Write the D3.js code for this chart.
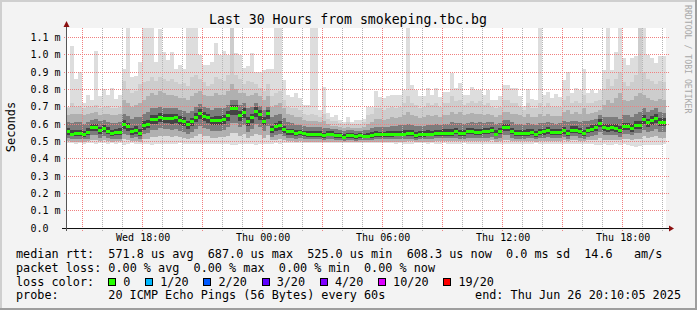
<!DOCTYPE html>
<html><head><meta charset="utf-8">
<script src="https://cdn.jsdelivr.net/npm/d3@7"></script>
<style>
body{margin:0;background:#f3f3f3}
svg{display:block}
text{font-family:"DejaVu Sans Mono",monospace}
</style></head>
<body><svg id="c" width="697" height="310" xmlns="http://www.w3.org/2000/svg"></svg>
<script>
// ---- data (microseconds) ----
const binSeconds = 720;
const endTime = new Date(2025,5,26,20,10,5);
const spanHours = 30;

const median = [
556,542,546,546,540,552,581,581,560,575,
558,546,552,552,600,583,554,565,546,592,
600,627,627,640,633,633,631,637,623,615,
596,612,640,662,646,635,619,619,621,627,
650,687,687,650,667,612,635,673,654,617,
658,567,583,592,569,554,554,544,550,544,
540,540,540,540,533,542,542,535,535,525,
531,535,527,531,529,529,535,540,537,537,
540,540,542,542,542,544,544,535,538,538,
542,542,548,548,548,548,548,556,546,546,
556,556,552,552,556,556,563,542,556,579,
579,556,546,546,546,548,552,540,552,554,
560,552,550,552,562,546,565,565,556,546,
563,571,579,604,579,575,579,575,563,585,
585,575,594,594,625,606,620,631,609,608];

const smokeTop1 = [
700,1050,860,900,720,765,740,1020,760,800,
770,810,745,770,920,1200,870,875,960,1200,
1200,1200,956,1150,1017,970,1017,920,940,920,
1200,1200,1200,1000,940,940,960,1065,998,1020,
1000,1200,1010,1000,925,937,1010,900,900,910,
915,920,1200,1200,854,767,758,777,748,710,
710,1200,1200,680,815,662,642,652,623,613,
642,613,623,623,627,700,700,790,758,752,
763,767,767,767,796,1200,825,796,763,763,
806,767,806,758,787,787,896,806,835,767,
767,815,796,796,767,796,738,738,760,825,
825,806,806,763,704,800,744,738,1200,767,
787,748,771,758,854,900,777,810,796,920,
777,796,777,796,910,1200,910,1017,1200,980,
940,980,990,1200,1200,998,980,950,994,994];

const smokeTop2 = [
690,720,700,705,690,700,700,710,690,700,
705,695,690,700,850,800,780,790,830,840,
850,870,850,870,860,850,860,840,830,835,
820,870,880,860,840,820,830,870,860,850,
880,1200,880,860,830,850,840,830,810,790,
830,760,780,790,740,700,690,690,680,660,
650,660,650,640,660,630,620,620,605,600,
610,600,600,600,610,650,660,690,690,680,
690,700,690,700,720,760,720,710,690,700,
720,710,720,700,720,720,760,730,740,710,
720,730,720,730,710,720,700,690,700,740,
740,720,720,700,680,720,690,690,720,700,
720,700,700,700,740,760,720,730,720,770,
720,720,730,740,800,860,820,860,900,840,
820,840,880,1200,900,860,850,830,850,840];

const smokeTop3 = [
650,660,655,660,650,655,665,670,650,660,
655,650,650,655,740,720,700,710,720,740,
760,780,770,790,780,770,770,760,750,750,
740,760,780,790,770,760,760,780,770,770,
790,830,800,780,780,760,770,780,760,740,
760,700,710,720,690,660,650,640,640,625,
620,620,615,610,620,600,590,590,580,575,
580,575,575,575,580,600,610,630,630,625,
630,640,635,640,650,670,650,645,635,640,
650,645,650,640,650,650,670,660,670,650,
655,665,655,660,650,655,650,640,650,670,
670,660,655,650,640,660,640,640,655,645,
655,645,645,645,670,680,660,670,660,690,
660,665,670,680,710,740,720,750,780,740,
730,740,760,780,770,750,740,730,745,740];

const smokeTop4 = [
610,605,610,610,600,610,625,630,615,625,
610,605,605,610,660,645,630,640,640,660,
670,690,690,700,695,690,690,690,680,675,
665,675,700,715,700,690,680,690,690,690,
710,740,740,710,720,690,700,720,705,680,
700,640,650,660,635,610,605,595,595,590,
585,585,583,580,578,575,572,570,565,560,
563,563,560,560,563,568,575,585,585,583,
585,590,590,592,595,600,595,590,588,590,
595,593,598,596,600,600,610,605,605,600,
605,610,605,610,608,610,612,598,605,625,
625,610,600,600,595,605,600,592,605,605,
610,605,602,605,615,610,615,620,610,615,
615,625,630,650,640,640,640,640,630,650,
650,640,660,670,690,670,680,690,670,665];

const smokeTop5 = [
575,565,568,568,562,575,600,602,582,596,
580,568,573,575,625,606,578,588,572,615,
625,652,650,664,658,656,655,660,646,640,
620,636,665,688,670,660,643,644,646,652,
676,712,712,676,692,638,660,698,678,642,
682,590,606,615,590,574,573,563,568,562,
558,558,557,557,550,558,557,550,550,543,
546,550,543,546,545,547,553,560,556,556,
559,560,562,562,563,566,564,556,558,558,
563,562,568,568,569,569,571,577,567,566,
577,577,573,573,577,576,583,563,576,600,
600,577,567,566,565,569,572,560,573,574,
580,572,570,572,583,568,586,586,577,568,
584,592,600,626,601,598,602,598,586,608,
608,598,618,620,650,630,645,655,633,632];

const smokeLow4 = [
535,528,530,530,526,535,558,560,540,553,
540,530,535,535,572,560,537,545,530,568,
575,598,598,610,604,604,602,607,595,588,
572,586,610,630,615,606,592,592,594,598,
620,652,652,620,635,586,606,642,624,592,
628,548,560,568,550,538,538,530,535,530,
527,527,527,527,521,528,528,522,522,514,
518,522,515,518,517,517,522,526,524,524,
526,526,528,528,528,530,530,522,525,525,
528,528,533,533,533,533,533,540,531,531,
540,540,536,536,540,540,546,528,540,558,
558,540,531,531,531,533,536,526,536,538,
543,536,534,536,545,531,548,548,540,531,
546,553,560,582,560,556,560,556,546,565,
565,556,574,574,600,584,596,606,588,587];

const smokeLow3 = [
518,512,514,514,511,516,535,537,522,530,
520,514,516,516,545,535,518,524,514,540,
548,565,565,575,570,570,568,572,562,556,
545,555,572,590,578,570,560,560,562,565,
580,605,605,580,592,556,570,598,585,558,
588,526,535,542,528,520,520,514,518,514,
512,512,512,512,508,513,513,509,509,503,
506,509,504,506,505,505,509,512,511,511,
512,512,514,514,514,515,515,509,511,511,
514,514,518,518,518,518,518,522,516,516,
522,522,519,519,522,522,526,514,522,536,
536,522,516,516,516,518,520,512,520,521,
524,520,518,520,526,516,528,528,522,516,
527,532,536,555,536,534,536,534,527,540,
540,534,546,546,565,552,562,570,555,554];

const smokeLow2 = [
500,498,499,499,497,500,508,510,502,506,
501,499,500,500,515,510,500,504,499,512,
515,525,525,530,528,528,527,530,524,520,
515,520,528,540,532,528,522,522,523,525,
532,548,548,532,540,520,528,545,536,522,
538,505,510,514,506,502,502,499,501,499,
498,498,498,498,496,498,498,496,496,494,
495,496,494,495,495,495,496,498,497,497,
498,498,499,499,499,500,500,497,498,498,
499,499,501,501,501,501,501,504,500,500,
503,503,502,502,503,503,506,499,503,510,
510,503,500,500,500,501,502,498,502,502,
504,502,501,502,505,500,506,506,503,500,
505,508,510,520,510,509,510,509,505,512,
512,509,516,516,528,520,525,530,520,520];

const smokeLow1 = [
488,490,486,489,487,490,488,485,489,490,
487,488,486,490,480,485,488,487,486,484,
482,480,485,483,486,485,484,487,488,486,
485,484,482,483,485,487,486,484,485,483,
482,478,480,483,482,486,484,481,483,485,
482,487,488,486,489,490,491,490,492,491,
490,489,488,490,491,492,490,491,492,493,
492,491,492,493,492,491,490,488,489,490,
489,488,487,488,486,484,487,488,489,488,
487,488,486,487,488,486,485,487,486,488,
487,486,485,486,484,485,486,483,486,484,
485,486,487,486,485,487,486,488,484,486,
485,487,486,485,484,485,484,483,485,484,
483,482,480,478,482,479,481,483,480,482,
479,472,470,474,476,480,479,481,480,482];

const yTickValues = [0,0.1,0.2,0.3,0.4,0.5,0.6,0.7,0.8,0.9,1.0,1.1];
const yTickLabels = ["0.0\u00a0\u00a0","0.1 m","0.2 m","0.3 m","0.4 m","0.5 m","0.6 m","0.7 m","0.8 m","0.9 m","1.0 m","1.1 m"];
const xTickTimes = [new Date(2025,5,25,18,0),new Date(2025,5,26,0,0),new Date(2025,5,26,6,0),new Date(2025,5,26,12,0),new Date(2025,5,26,18,0)];
const xTickLabels = ["Wed 18:00","Thu 00:00","Thu 06:00","Thu 12:00","Thu 18:00"];
const lossLabels = ["0","1/20","2/20","3/20","4/20","10/20","19/20"];
const lossColors = ["#26ff00","#00b8ff","#0059ff","#5e00ff","#7e00ff","#dd00ff","#ff0000"];
const legendLines = [
  "median rtt:  571.8 us avg  687.0 us max  525.0 us min  608.3 us now  0.0 ms sd  14.6   am/s",
  "packet loss: 0.00 % avg  0.00 % max  0.00 % min  0.00 % now"
];

// ---- layout ----
const W=697,H=310;
const L=66,R=666,T=28,B=228;
const yMaxMs = 1.15385;
const startTime = new Date(endTime.getTime()-spanHours*3600*1000);
const x = d3.scaleTime().domain([startTime,endTime]).range([L,R]);
const y = d3.scaleLinear().domain([0,yMaxMs]).range([B,T]);
const ms = v => Math.min(v/1000, yMaxMs);
const binStart = i => new Date(startTime.getTime()+i*binSeconds*1000);

const svg = d3.select("#c");
const defs = svg.append("defs");
function dotPattern(id, horiz, color){
  const p = defs.append("pattern").attr("id",id).attr("patternUnits","userSpaceOnUse")
    .attr("x",0).attr("y",0).attr("width",horiz?2:1).attr("height",horiz?1:2);
  p.append("rect").attr("x",0).attr("y",0).attr("width",1).attr("height",1).attr("fill",color);
}
dotPattern("hRed",true,"#f08080");
dotPattern("vRed",false,"#f08080");
dotPattern("vGray",false,"#b4b4b4");

svg.append("rect").attr("width",W).attr("height",H).attr("fill","#f3f3f3");
svg.append("rect").attr("x",0).attr("y",0).attr("width",W).attr("height",2).attr("fill","#cfcfcf");
svg.append("rect").attr("x",0).attr("y",0).attr("width",2).attr("height",H).attr("fill","#cfcfcf");
svg.append("rect").attr("x",695).attr("y",0).attr("width",2).attr("height",H).attr("fill","#9e9e9e");
svg.append("rect").attr("x",0).attr("y",308).attr("width",W).attr("height",2).attr("fill","#9e9e9e");

svg.append("rect").attr("x",L).attr("y",T).attr("width",R-L).attr("height",B-T).attr("fill","#ffffff");
svg.append("clipPath").attr("id","pc").append("rect").attr("x",L).attr("y",T).attr("width",R-L).attr("height",B-T);

const plot = svg.append("g").attr("clip-path","url(#pc)").attr("shape-rendering","crispEdges");
const layers = [
  {lo:smokeLow1, hi:smokeTop1, color:"#dddddd"},
  {lo:smokeLow2, hi:smokeTop2, color:"#cdcdcd"},
  {lo:smokeLow2, hi:smokeTop3, color:"#b0b0b0"},
  {lo:smokeLow3, hi:smokeTop4, color:"#7c7c7c"},
  {lo:smokeLow4, hi:smokeTop5, color:"#444444"}
];
layers.forEach(ly=>{
  plot.append("g").selectAll("rect").data(median.map((m,i)=>i)).join("rect")
    .attr("x",i=>x(binStart(i)))
    .attr("width",i=>x(binStart(i+1))-x(binStart(i)))
    .attr("y",i=>y(ms(ly.hi[i])))
    .attr("height",i=>Math.max(0,y(ms(ly.lo[i]))-y(ms(ly.hi[i]))))
    .attr("fill",ly.color);
});

// grid: dotted lines as 1px-wide pattern-filled rects
const grid = svg.append("g").attr("shape-rendering","crispEdges");
d3.timeHour.range(startTime,endTime).forEach(t=>{
  const gx = Math.floor(x(t));
  const major = t.getHours()%3===0;
  grid.append("rect").attr("x",gx).attr("y",T).attr("width",1).attr("height",B-T+3)
    .attr("fill",major?"url(#vRed)":"url(#vGray)");
});
yTickValues.slice(1).forEach(v=>{
  const gy = Math.floor(y(v));
  grid.append("rect").attr("x",L-3).attr("y",gy).attr("width",R-L+6).attr("height",1)
    .attr("fill","url(#hRed)");
});

// median bands
svg.append("g").attr("shape-rendering","crispEdges").selectAll("rect").data(median).join("rect")
  .attr("x",(d,i)=>x(binStart(i)))
  .attr("width",(d,i)=>x(binStart(i+1))-x(binStart(i)))
  .attr("y",d=>Math.round(y(ms(d))-1.5)).attr("height",3).attr("fill",lossColors[0]);

// axis lines & arrows
svg.append("line").attr("x1",L-4).attr("x2",R+4).attr("y1",B+0.5).attr("y2",B+0.5).attr("stroke","#111");
svg.append("line").attr("x1",L+0.5).attr("x2",L+0.5).attr("y1",B+3).attr("y2",T-4).attr("stroke","#555");
svg.append("path").attr("d",`M${R+3},${B-2.5}L${R+8},${B+0.5}L${R+3},${B+3.5}Z`).attr("fill","#8b1010");
svg.append("path").attr("d",`M${L-2.5},${T-1}L${L+0.5},${T-7}L${L+3.5},${T-1}Z`).attr("fill","#8b1010");

// axes text
const xa = svg.append("g").attr("transform",`translate(0,${B})`)
  .call(d3.axisBottom(x).tickValues(xTickTimes).tickFormat((d,i)=>xTickLabels[i]).tickSize(0).tickPadding(6));
xa.select(".domain").remove();
xa.selectAll("text").attr("font-family","DejaVu Sans Mono").attr("font-size",10).attr("fill","#000");
const ya = svg.append("g").attr("transform",`translate(${L},0)`)
  .call(d3.axisLeft(y).tickValues(yTickValues).tickFormat((d,i)=>yTickLabels[i]).tickSize(0).tickPadding(5.5));
ya.select(".domain").remove();
ya.selectAll("text").attr("font-family","DejaVu Sans Mono").attr("font-size",10).attr("fill","#000");

// title & labels
svg.append("text").attr("x",348).attr("y",24).attr("text-anchor","middle")
  .attr("font-size",13.2).attr("fill","#000").text("Last 30 Hours from smokeping.tbc.bg");
svg.append("text").attr("transform","translate(15,127) rotate(-90)").attr("text-anchor","middle")
  .attr("font-size",12).attr("fill","#000").text("Seconds");
svg.append("text").attr("transform","translate(685,5) rotate(90)")
  .attr("font-size",8.2).attr("fill","#a8a8a8").text("RRDTOOL / TOBI OETIKER");

// legend
const lg = svg.append("g").attr("font-size",11.8).attr("fill","#000");
const pre = sel => sel.attr("xml:space","preserve").style("white-space","pre");
pre(lg.append("text").attr("x",16).attr("y",258).text(legendLines[0]));
pre(lg.append("text").attr("x",16).attr("y",271.7).text(legendLines[1]));
lg.append("text").attr("x",16).attr("y",285.5).text("loss color:");
let cx = 108.3;
lossLabels.forEach((lab,i)=>{
  lg.append("rect").attr("x",Math.round(cx)+0.5).attr("y",278.5).attr("width",7).attr("height",7)
    .attr("fill",lossColors[i]).attr("stroke","#000").attr("stroke-width",1);
  const t = lg.append("text").attr("x",cx+15).attr("y",285.5).text(lab);
  cx = cx+15+t.node().getComputedTextLength()+14.8;
});
lg.append("text").attr("x",16).attr("y",299.3).text("probe:");
lg.append("text").attr("x",16+13*7.1).attr("y",299.3).text("20 ICMP Echo Pings (56 Bytes) every 60s");
lg.append("text").attr("x",681).attr("y",299.3).attr("text-anchor","end").text("end: Thu Jun 26 20:10:05 2025");
</script></body></html>
